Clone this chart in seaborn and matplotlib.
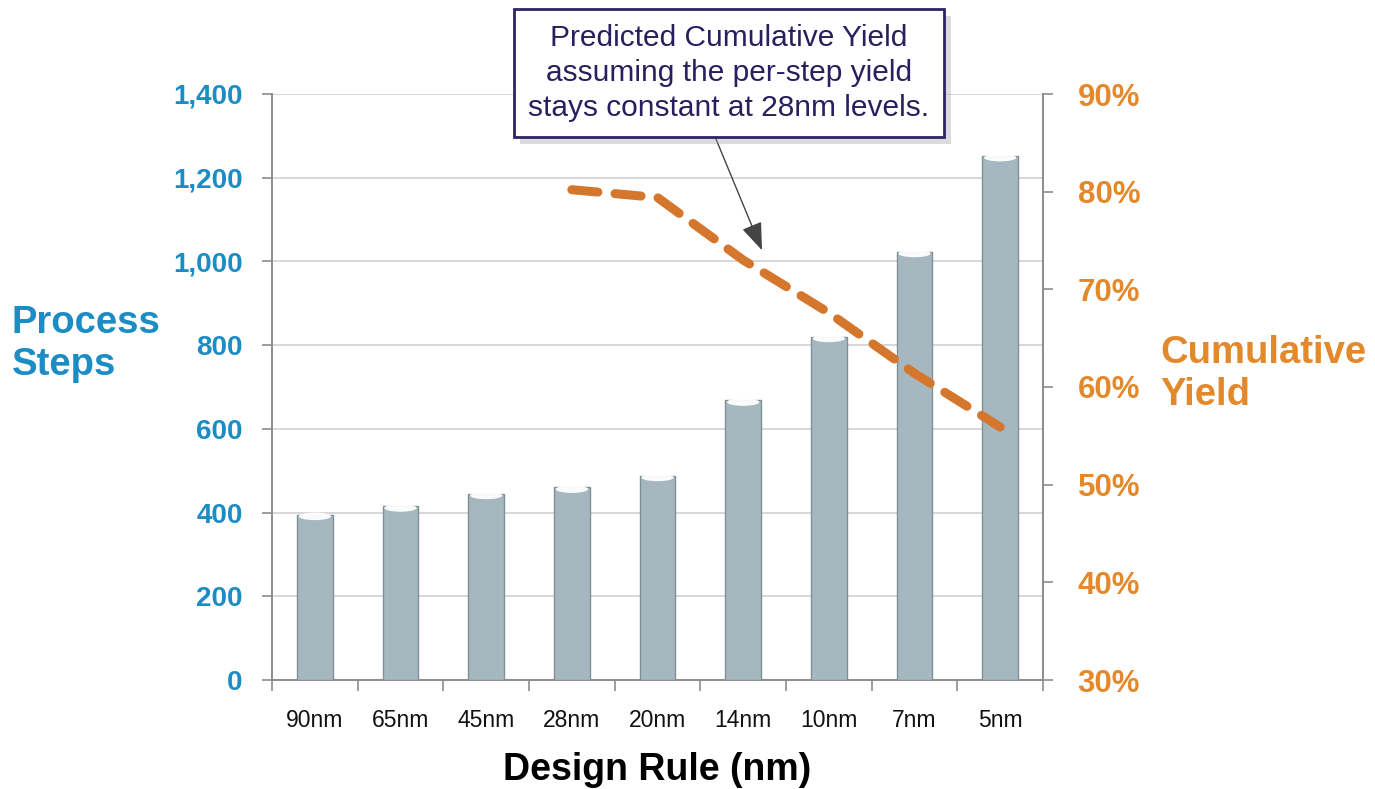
import matplotlib
matplotlib.use("Agg")
import matplotlib.pyplot as plt
import matplotlib.patheffects as pe
from matplotlib.patches import Ellipse
import seaborn as sns
import pandas as pd
import numpy as np

# ---- data ----
design_rules = ["90nm", "65nm", "45nm", "28nm", "20nm", "14nm", "10nm", "7nm", "5nm"]
process_steps = [395, 415, 445, 460, 488, 668, 820, 1023, 1252]
yield_rules = ["28nm", "20nm", "14nm", "10nm", "7nm", "5nm"]
cumulative_yield = [80.2, 79.4, 73.0, 67.6, 61.4, 55.9]
left_ticks = [0, 200, 400, 600, 800, 1000, 1200, 1400]
right_ticks = [30, 40, 50, 60, 70, 80, 90]
annotation_text = "Predicted Cumulative Yield\nassuming the per-step yield\nstays constant at 28nm levels."

BLUE = "#1b8cc4"
ORANGE = "#e3892c"
LINE_ORANGE = "#d4762c"
BAR = "#a6b7bf"
BAR_EDGE = "#7f9097"
GRID = "#d4d4d4"
SPINE = "#8c8c8c"

sns.set_theme(style="white")
plt.rcParams["font.family"] = ["Liberation Sans", "DejaVu Sans"]

fig = plt.figure(figsize=(13.75, 7.89), dpi=100)
ax = fig.add_axes([272/1375, 1-680/789, (1043-272)/1375, (680-94)/789])

df = pd.DataFrame({"rule": design_rules, "steps": process_steps})
sns.barplot(data=df, x="rule", y="steps", order=design_rules, color=BAR,
            width=0.42, saturation=1, edgecolor=BAR_EDGE, linewidth=1.0, ax=ax, zorder=3)

# cylinder cap highlight derived from bar geometry
for p in list(ax.patches):
    x0, w, h = p.get_x(), p.get_width(), p.get_height()
    ax.add_patch(Ellipse((x0 + w/2, h - 4), w*0.9, 18, facecolor="white",
                         edgecolor="none", alpha=0.95, zorder=4))

ax.set_xlim(-0.5, len(design_rules) - 0.5)
ax.set_ylim(0, 1400)
ax.set_yticks(left_ticks)
ax.set_yticklabels([f"{v:,}" for v in left_ticks])
ax.yaxis.grid(True, color=GRID, linewidth=1.3, zorder=0)
ax.set_axisbelow(True)
ax.set_xlabel("Design Rule (nm)", fontsize=27, fontweight="bold", color="black", labelpad=14)
ax.set_ylabel("")
ax.tick_params(axis="y", which="major", left=True, length=7, width=1.2, color=SPINE,
               labelsize=20, labelcolor=BLUE, pad=14)
for t in ax.get_yticklabels():
    t.set_fontweight("bold")
ax.tick_params(axis="x", which="major", bottom=False, labelsize=16.5, labelcolor="#111111", pad=15)
ax.set_xticks(np.arange(-0.5, len(design_rules)), minor=True)
ax.tick_params(axis="x", which="minor", bottom=True, length=8, width=1.2, color=SPINE)
for s in ["top", "right"]:
    ax.spines[s].set_visible(False)
for s in ["left", "bottom"]:
    ax.spines[s].set_color(SPINE)
    ax.spines[s].set_linewidth(1.4)

# ---- secondary axis ----
ax2 = ax.twinx()
ydf = pd.DataFrame({"pos": [design_rules.index(r) for r in yield_rules],
                    "yield": cumulative_yield})
sns.lineplot(data=ydf, x="pos", y="yield", ax=ax2, color=LINE_ORANGE, linewidth=6.5,
             zorder=5)
line = ax2.lines[0]
line.set_dashes((2.9, 1.9))
line.set_dash_capstyle("round")
line.set_solid_joinstyle("round")
ax2.set_xlim(-0.5, len(design_rules) - 0.5)
ax2.set_ylim(30, 90)
ax2.set_yticks(right_ticks)
ax2.set_yticklabels([f"{v}%" for v in right_ticks])
ax2.set_ylabel("")
ax2.set_xlabel("")
ax2.tick_params(axis="y", right=True, length=7, width=1.2, color=SPINE,
                labelsize=22.5, labelcolor=ORANGE, pad=18)
for t in ax2.get_yticklabels():
    t.set_fontweight("bold")
ax2.grid(False)
for s in ["top", "left", "bottom"]:
    ax2.spines[s].set_visible(False)
ax2.spines["right"].set_color(SPINE)
ax2.spines["right"].set_linewidth(1.4)

# ---- axis titles ----
fig.text(12/1375, 1-344/789, "Process\nSteps", color=BLUE, fontsize=27.5, fontweight="bold",
         ha="left", va="center", linespacing=1.2)
fig.text(1160/1375, 1-374/789, "Cumulative\nYield", color=ORANGE, fontsize=27.5,
         fontweight="bold", ha="left", va="center", linespacing=1.2)

# ---- annotation ----
ann = ax2.annotate(annotation_text, xy=(5.22, 74.0), xycoords="data",
                   xytext=(729/1375, 1-73/789), textcoords="figure fraction",
                   ha="center", va="center", fontsize=21.5, color="#2a1f5e",
                   linespacing=1.32,
                   bbox=dict(boxstyle="square,pad=0.5", facecolor="white",
                             edgecolor="#2e2466", linewidth=2),
                   arrowprops=dict(arrowstyle="-|>,head_length=0.8,head_width=0.3",
                                   color="#444444", linewidth=1.0, relpos=(0.45, 0.0),
                                   shrinkA=0, shrinkB=0),
                   zorder=10)
ann.get_bbox_patch().set_path_effects([
    pe.withSimplePatchShadow(offset=(5, -5), shadow_rgbFace="#999999", alpha=0.35)])

fig.savefig("out.png", dpi=100)
